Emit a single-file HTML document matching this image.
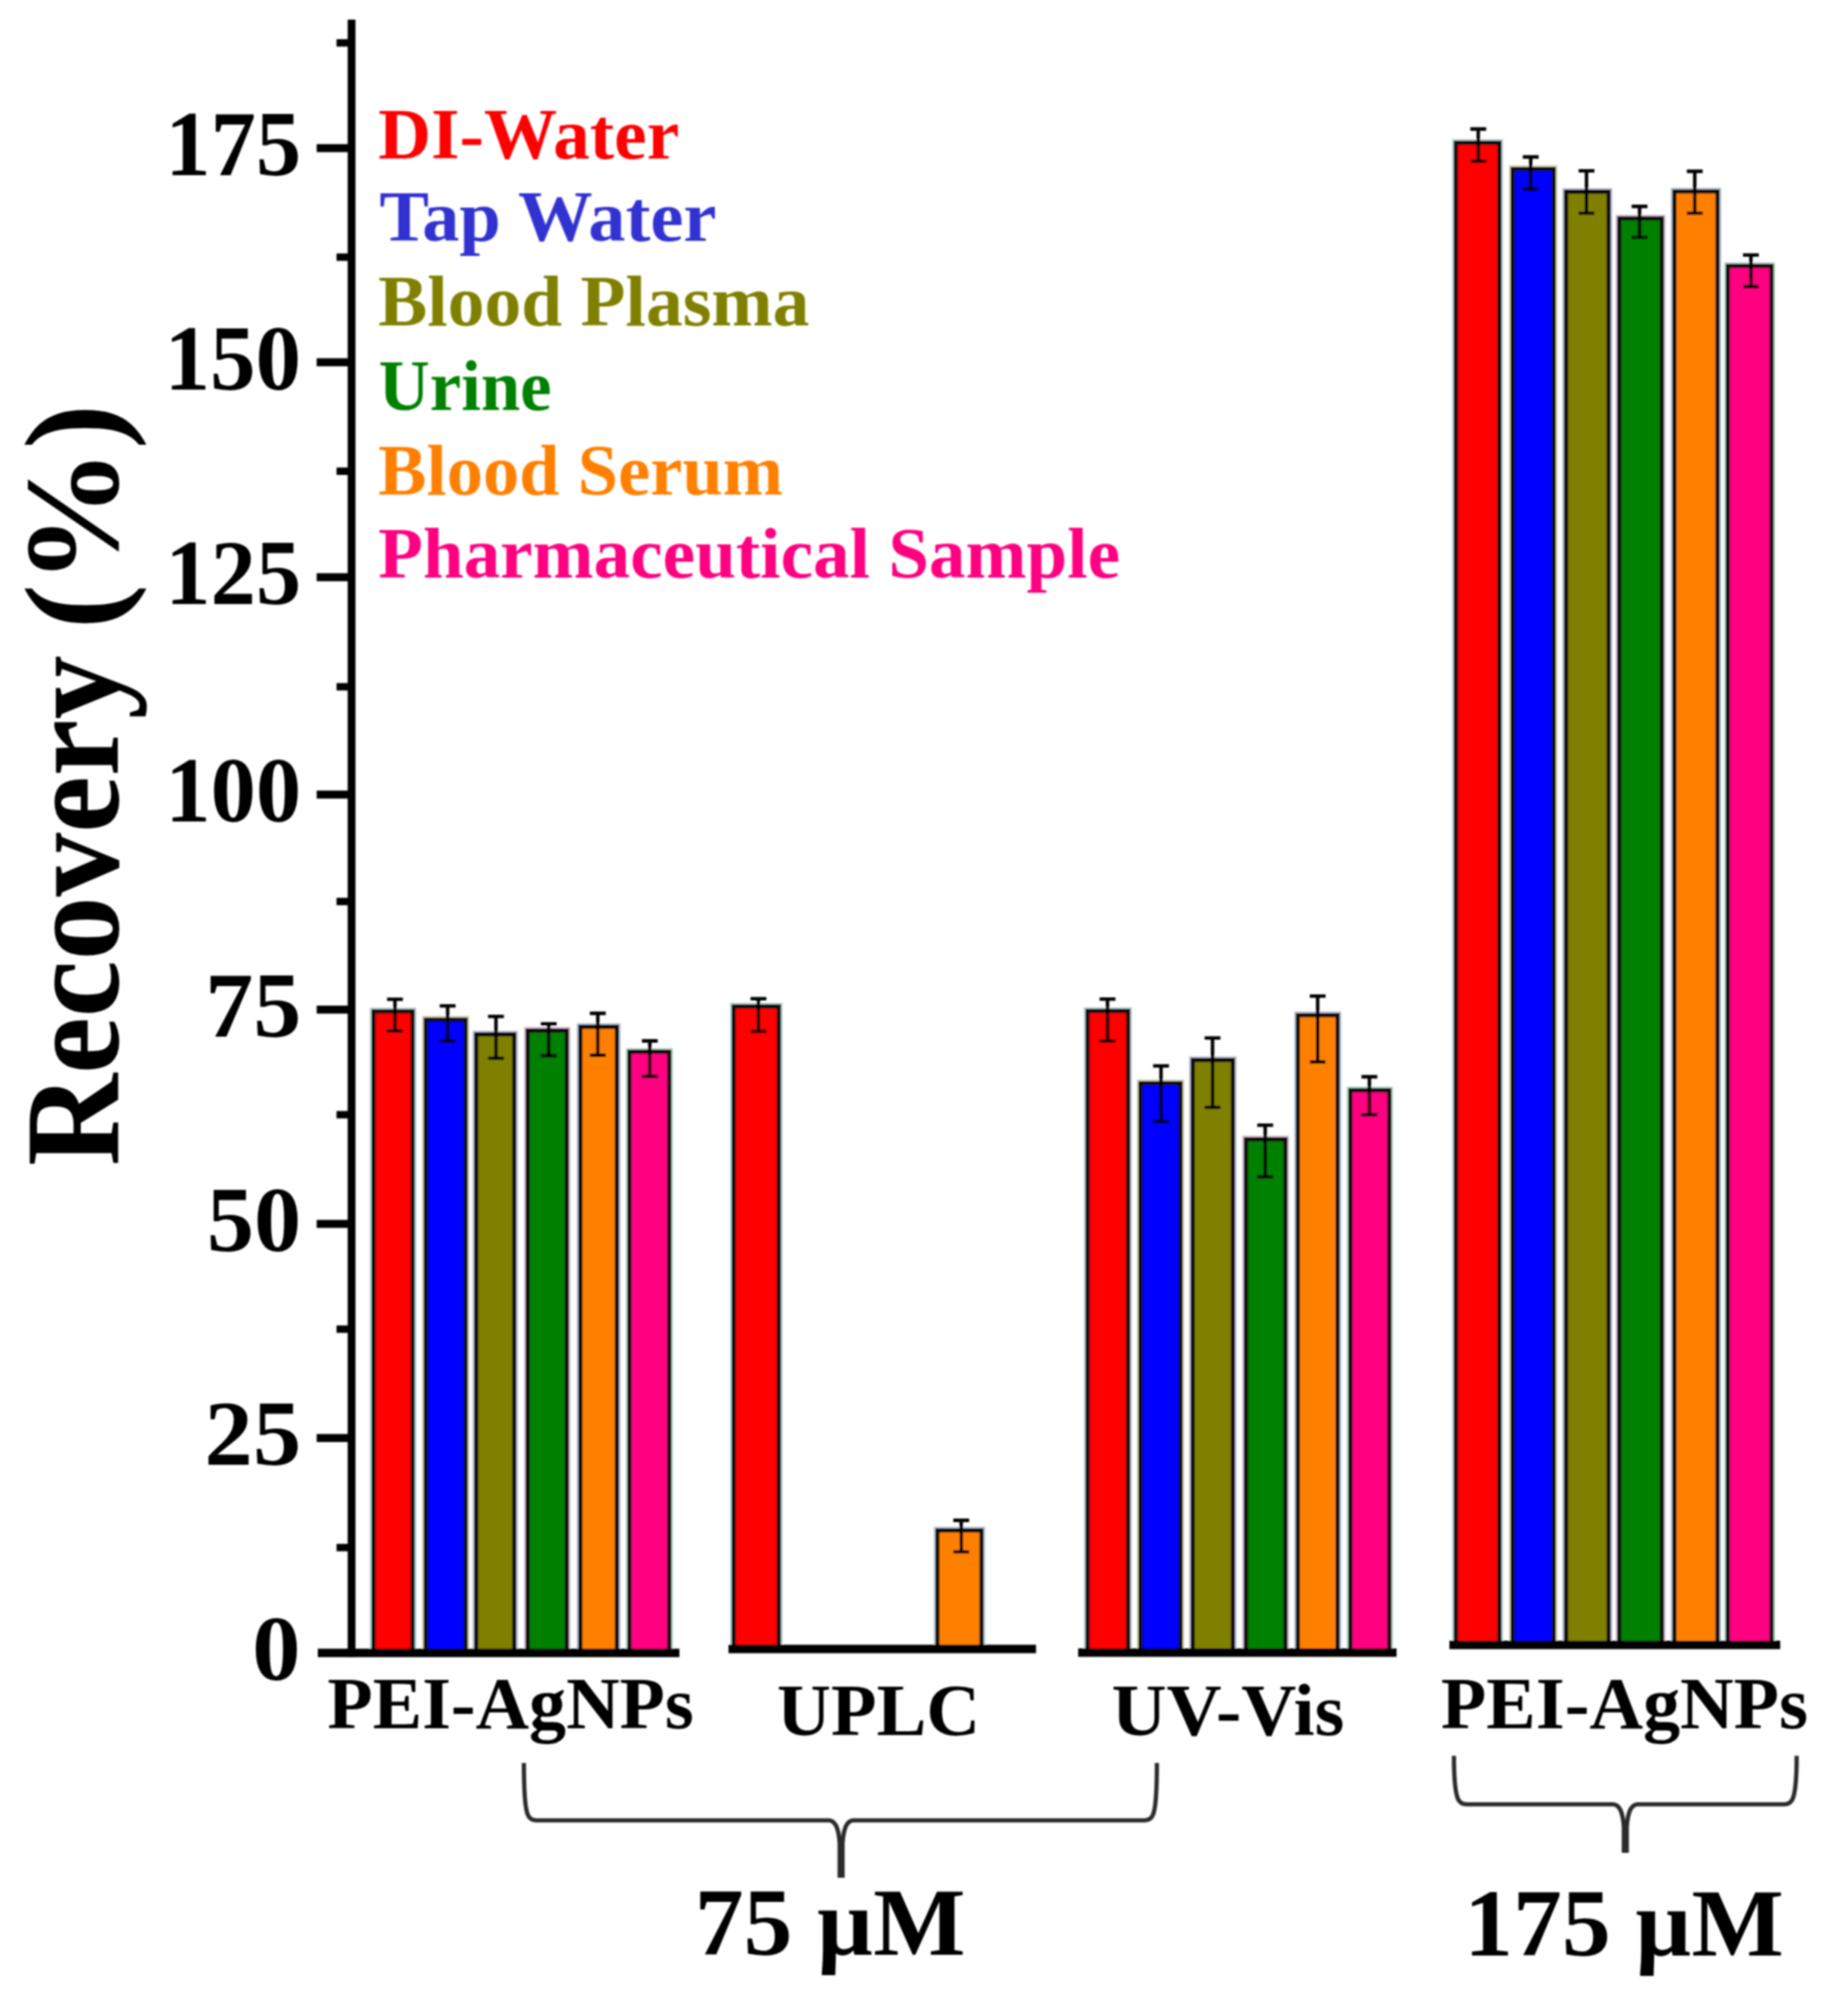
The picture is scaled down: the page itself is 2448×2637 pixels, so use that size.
<!DOCTYPE html>
<html lang="en"><head><meta charset="utf-8"><title>Recovery chart</title>
<style>html,body{margin:0;padding:0;background:#fff}body{width:2448px;height:2637px;overflow:hidden}svg{display:block}</style>
</head><body>
<svg width="2448" height="2637" viewBox="0 0 2448 2637" font-family='"Liberation Serif", serif' font-weight="bold">
<rect width="2448" height="2637" fill="#fff"/>
<g id="chart" filter="url(#soft)">
<rect x="494.75" y="1339.50" width="51.80" height="849.50" fill="none" stroke="#a6c6c6" stroke-opacity="0.75" stroke-width="10.0"/>
<rect x="494.75" y="1339.50" width="51.80" height="849.50" fill="#FF0000" stroke="#111" stroke-width="5.5"/>
<rect x="564.05" y="1350.50" width="52.70" height="838.50" fill="none" stroke="#c6c4a0" stroke-opacity="0.75" stroke-width="10.0"/>
<rect x="564.05" y="1350.50" width="52.70" height="838.50" fill="#0000FF" stroke="#111" stroke-width="5.5"/>
<rect x="630.75" y="1370.00" width="50.50" height="819.00" fill="none" stroke="#b2b2cc" stroke-opacity="0.75" stroke-width="10.0"/>
<rect x="630.75" y="1370.00" width="50.50" height="819.00" fill="#808000" stroke="#111" stroke-width="5.5"/>
<rect x="699.05" y="1365.00" width="51.70" height="824.00" fill="none" stroke="#ccb2c6" stroke-opacity="0.75" stroke-width="10.0"/>
<rect x="699.05" y="1365.00" width="51.70" height="824.00" fill="#008000" stroke="#111" stroke-width="5.5"/>
<rect x="768.75" y="1360.00" width="48.50" height="829.00" fill="none" stroke="#a8b8cc" stroke-opacity="0.75" stroke-width="10.0"/>
<rect x="768.75" y="1360.00" width="48.50" height="829.00" fill="#FF8000" stroke="#111" stroke-width="5.5"/>
<rect x="833.75" y="1393.00" width="52.80" height="796.00" fill="none" stroke="#a6ccb8" stroke-opacity="0.75" stroke-width="10.0"/>
<rect x="833.75" y="1393.00" width="52.80" height="796.00" fill="#FF0080" stroke="#111" stroke-width="5.5"/>
<rect x="971.95" y="1333.00" width="59.70" height="851.00" fill="none" stroke="#a6c6c6" stroke-opacity="0.75" stroke-width="10.0"/>
<rect x="971.95" y="1333.00" width="59.70" height="851.00" fill="#FF0000" stroke="#111" stroke-width="5.5"/>
<rect x="1241.75" y="2027.00" width="58.50" height="157.00" fill="none" stroke="#a8b8cc" stroke-opacity="0.75" stroke-width="10.0"/>
<rect x="1241.75" y="2027.00" width="58.50" height="157.00" fill="#FF8000" stroke="#111" stroke-width="5.5"/>
<rect x="1440.65" y="1339.00" width="53.80" height="850.00" fill="none" stroke="#a6c6c6" stroke-opacity="0.75" stroke-width="10.0"/>
<rect x="1440.65" y="1339.00" width="53.80" height="850.00" fill="#FF0000" stroke="#111" stroke-width="5.5"/>
<rect x="1510.75" y="1434.70" width="53.00" height="754.30" fill="none" stroke="#c6c4a0" stroke-opacity="0.75" stroke-width="10.0"/>
<rect x="1510.75" y="1434.70" width="53.00" height="754.30" fill="#0000FF" stroke="#111" stroke-width="5.5"/>
<rect x="1580.05" y="1404.00" width="53.20" height="785.00" fill="none" stroke="#b2b2cc" stroke-opacity="0.75" stroke-width="10.0"/>
<rect x="1580.05" y="1404.00" width="53.20" height="785.00" fill="#808000" stroke="#111" stroke-width="5.5"/>
<rect x="1650.45" y="1509.00" width="52.30" height="680.00" fill="none" stroke="#ccb2c6" stroke-opacity="0.75" stroke-width="10.0"/>
<rect x="1650.45" y="1509.00" width="52.30" height="680.00" fill="#008000" stroke="#111" stroke-width="5.5"/>
<rect x="1719.35" y="1344.60" width="52.50" height="844.40" fill="none" stroke="#a8b8cc" stroke-opacity="0.75" stroke-width="10.0"/>
<rect x="1719.35" y="1344.60" width="52.50" height="844.40" fill="#FF8000" stroke="#111" stroke-width="5.5"/>
<rect x="1788.75" y="1444.00" width="51.70" height="745.00" fill="none" stroke="#a6ccb8" stroke-opacity="0.75" stroke-width="10.0"/>
<rect x="1788.75" y="1444.00" width="51.70" height="745.00" fill="#FF0080" stroke="#111" stroke-width="5.5"/>
<rect x="1928.55" y="189.20" width="57.70" height="1989.30" fill="none" stroke="#a6c6c6" stroke-opacity="0.75" stroke-width="10.0"/>
<rect x="1928.55" y="189.20" width="57.70" height="1989.30" fill="#FF0000" stroke="#111" stroke-width="5.5"/>
<rect x="2003.75" y="223.80" width="54.50" height="1954.70" fill="none" stroke="#c6c4a0" stroke-opacity="0.75" stroke-width="10.0"/>
<rect x="2003.75" y="223.80" width="54.50" height="1954.70" fill="#0000FF" stroke="#111" stroke-width="5.5"/>
<rect x="2074.55" y="254.00" width="56.30" height="1924.50" fill="none" stroke="#b2b2cc" stroke-opacity="0.75" stroke-width="10.0"/>
<rect x="2074.55" y="254.00" width="56.30" height="1924.50" fill="#808000" stroke="#111" stroke-width="5.5"/>
<rect x="2145.05" y="289.30" width="56.40" height="1889.20" fill="none" stroke="#ccb2c6" stroke-opacity="0.75" stroke-width="10.0"/>
<rect x="2145.05" y="289.30" width="56.40" height="1889.20" fill="#008000" stroke="#111" stroke-width="5.5"/>
<rect x="2218.05" y="253.60" width="57.20" height="1924.90" fill="none" stroke="#a8b8cc" stroke-opacity="0.75" stroke-width="10.0"/>
<rect x="2218.05" y="253.60" width="57.20" height="1924.90" fill="#FF8000" stroke="#111" stroke-width="5.5"/>
<rect x="2288.75" y="352.30" width="57.90" height="1826.20" fill="none" stroke="#a6ccb8" stroke-opacity="0.75" stroke-width="10.0"/>
<rect x="2288.75" y="352.30" width="57.90" height="1826.20" fill="#FF0080" stroke="#111" stroke-width="5.5"/>
<path d="M523.2,1323.5V1365.2M512.7,1323.5H533.7M512.7,1365.2H533.7" stroke="#000" stroke-width="4.6" fill="none"/>
<path d="M593.0,1332.3V1378.6M582.5,1332.3H603.5M582.5,1378.6H603.5" stroke="#000" stroke-width="4.6" fill="none"/>
<path d="M657.0,1346.2V1401.7M646.5,1346.2H667.5M646.5,1401.7H667.5" stroke="#000" stroke-width="4.6" fill="none"/>
<path d="M726.9,1356.0V1398.1M716.4,1356.0H737.4M716.4,1398.1H737.4" stroke="#000" stroke-width="4.6" fill="none"/>
<path d="M791.9,1342.1V1397.6M781.4,1342.1H802.4M781.4,1397.6H802.4" stroke="#000" stroke-width="4.6" fill="none"/>
<path d="M860.8,1378.6V1425.4M850.3,1378.6H871.3M850.3,1425.4H871.3" stroke="#000" stroke-width="4.6" fill="none"/>
<path d="M1004.7,1322.7V1366.0M994.2,1322.7H1015.2M994.2,1366.0H1015.2" stroke="#000" stroke-width="4.6" fill="none"/>
<path d="M1273.3,2013.6V2055.2M1262.8,2013.6H1283.8M1262.8,2055.2H1283.8" stroke="#000" stroke-width="4.6" fill="none"/>
<path d="M1467.1,1323.3V1378.8M1456.6,1323.3H1477.6M1456.6,1378.8H1477.6" stroke="#000" stroke-width="4.6" fill="none"/>
<path d="M1538.0,1411.8V1485.6M1527.5,1411.8H1548.5M1527.5,1485.6H1548.5" stroke="#000" stroke-width="4.6" fill="none"/>
<path d="M1606.2,1374.7V1466.7M1595.7,1374.7H1616.7M1595.7,1466.7H1616.7" stroke="#000" stroke-width="4.6" fill="none"/>
<path d="M1676.0,1490.2V1558.7M1665.5,1490.2H1686.5M1665.5,1558.7H1686.5" stroke="#000" stroke-width="4.6" fill="none"/>
<path d="M1745.5,1319.2V1406.4M1735.0,1319.2H1756.0M1735.0,1406.4H1756.0" stroke="#000" stroke-width="4.6" fill="none"/>
<path d="M1814.0,1426.1V1476.2M1803.5,1426.1H1824.5M1803.5,1476.2H1824.5" stroke="#000" stroke-width="4.6" fill="none"/>
<path d="M1958.2,170.9V213.3M1947.7,170.9H1968.7M1947.7,213.3H1968.7" stroke="#000" stroke-width="4.6" fill="none"/>
<path d="M2027.7,207.9V250.4M2017.2,207.9H2038.2M2017.2,250.4H2038.2" stroke="#000" stroke-width="4.6" fill="none"/>
<path d="M2101.6,226.3V282.3M2091.1,226.3H2112.1M2091.1,282.3H2112.1" stroke="#000" stroke-width="4.6" fill="none"/>
<path d="M2171.9,273.4V314.3M2161.4,273.4H2182.4M2161.4,314.3H2182.4" stroke="#000" stroke-width="4.6" fill="none"/>
<path d="M2245.0,226.9V282.3M2234.5,226.9H2255.5M2234.5,282.3H2255.5" stroke="#000" stroke-width="4.6" fill="none"/>
<path d="M2319.4,337.8V379.7M2308.9,337.8H2329.9M2308.9,379.7H2329.9" stroke="#000" stroke-width="4.6" fill="none"/>
<rect x="460.55" y="26" width="10.3" height="2168.5" fill="#000"/>
<rect x="419.5" y="190.9" width="46.2" height="10.6" fill="#000"/>
<rect x="419.5" y="474.5" width="46.2" height="10.6" fill="#000"/>
<rect x="419.5" y="759.2" width="46.2" height="10.6" fill="#000"/>
<rect x="419.5" y="1047.1" width="46.2" height="10.6" fill="#000"/>
<rect x="419.5" y="1331.9" width="46.2" height="10.6" fill="#000"/>
<rect x="419.5" y="1615.7" width="46.2" height="10.6" fill="#000"/>
<rect x="419.5" y="1899.3" width="46.2" height="10.6" fill="#000"/>
<rect x="445.8" y="51.9" width="19.9" height="9.8" fill="#000"/>
<rect x="445.8" y="335.7" width="19.9" height="9.8" fill="#000"/>
<rect x="445.8" y="619.2" width="19.9" height="9.8" fill="#000"/>
<rect x="445.8" y="904.7" width="19.9" height="9.8" fill="#000"/>
<rect x="445.8" y="1189.1" width="19.9" height="9.8" fill="#000"/>
<rect x="445.8" y="1471.5" width="19.9" height="9.8" fill="#000"/>
<rect x="445.8" y="1755.5" width="19.9" height="9.8" fill="#000"/>
<rect x="445.8" y="2044.8" width="19.9" height="9.8" fill="#000"/>
<rect x="421" y="2183.6" width="479.0" height="11.2" fill="#000"/>
<rect x="965" y="2178.4" width="407.4" height="11.2" fill="#000"/>
<rect x="1428.2" y="2183.2" width="421.8" height="11.2" fill="#000"/>
<rect x="1920" y="2173.0" width="438.2" height="11.2" fill="#000"/>
<path d="M694,2335 C694,2369.2 695,2389 698,2400 C700,2408 704,2411 711,2411 L1098.2,2411 C1106.2,2411.5 1110.8,2420 1112.3,2441 L1112.3,2487" stroke="#2b2b2b" stroke-width="5.6" fill="none" stroke-linecap="butt"/>
<path d="M1532.5,2335 C1532.5,2369.2 1531.5,2389 1528.5,2400 C1526.5,2408 1522.5,2411 1515.5,2411 L1130.2,2411 C1122.2,2411.5 1117.6000000000001,2420 1116.1000000000001,2441 L1116.1000000000001,2487" stroke="#2b2b2b" stroke-width="5.6" fill="none" stroke-linecap="butt"/>
<path d="M1926,2325.5 C1926,2354.4 1927,2367.7 1930,2378.7 C1932,2386.7 1936,2389.7 1943,2389.7 L2137,2389.7 C2145,2390.2 2149.6,2398.7 2151.1,2419.7 L2151.1,2454" stroke="#2b2b2b" stroke-width="5.6" fill="none" stroke-linecap="butt"/>
<path d="M2380,2325.5 C2380,2354.4 2379,2367.7 2376,2378.7 C2374,2386.7 2370,2389.7 2363,2389.7 L2169,2389.7 C2161,2390.2 2156.4,2398.7 2154.9,2419.7 L2154.9,2454" stroke="#2b2b2b" stroke-width="5.6" fill="none" stroke-linecap="butt"/>
<text transform="translate(219.11,232.00) scale(0.9824,1)" font-size="122" fill="#000">175</text>
<text transform="translate(217.95,515.60) scale(0.9889,1)" font-size="122" fill="#000">150</text>
<text transform="translate(219.11,800.30) scale(0.9824,1)" font-size="122" fill="#000">125</text>
<text transform="translate(219.11,1088.20) scale(0.9824,1)" font-size="122" fill="#000">100</text>
<text transform="translate(271.77,1373.00) scale(1.0443,1)" font-size="122" fill="#000">75</text>
<text transform="translate(274.10,1656.80) scale(1.0245,1)" font-size="122" fill="#000">50</text>
<text transform="translate(270.85,1940.40) scale(1.0504,1)" font-size="122" fill="#000">25</text>
<text transform="translate(333.89,2224.80) scale(1.0511,1)" font-size="122" fill="#000">0</text>
<text transform="translate(501.00,209.70) scale(1.0107,1)" font-size="96" fill="#FF0000">DI-Water</text>
<text transform="translate(502.42,318.80) scale(1.0274,1)" font-size="96" fill="#3030D2">Tap Water</text>
<text transform="translate(500.99,431.30) scale(1.0152,1)" font-size="96" fill="#808000">Blood Plasma</text>
<text transform="translate(501.56,543.40) scale(0.9770,1)" font-size="96" fill="#008000">Urine</text>
<text transform="translate(501.02,654.80) scale(1.0008,1)" font-size="96" fill="#FF8000">Blood Serum</text>
<text transform="translate(501.00,765.00) scale(1.0098,1)" font-size="96" fill="#FF0080">Pharmaceutical Sample</text>
<text transform="translate(433.78,2288.60) scale(1.0014,1)" font-size="98" fill="#000">PEI-AgNPs</text>
<text transform="translate(1029.33,2297.70) scale(1.0091,1)" font-size="98" fill="#000">UPLC</text>
<text transform="translate(1472.48,2297.70) scale(1.0296,1)" font-size="98" fill="#000">UV-Vis</text>
<text transform="translate(1908.78,2288.70) scale(1.0034,1)" font-size="98" fill="#000">PEI-AgNPs</text>
<text transform="translate(920.26,2589.30) scale(1.0115,1)" font-size="128" fill="#000">75 µM</text>
<text transform="translate(1939.54,2590.10) scale(1.0114,1)" font-size="128" fill="#000">175 µM</text>
<text transform="translate(156.00,1544.36) rotate(-90) scale(0.9502,1)" font-size="178" fill="#000">Recovery</text>
<text transform="translate(156.00,833.14) rotate(-90) scale(1.0043,1)" font-size="178" fill="#000">(%)</text>
</g>
<defs><filter id="soft" x="0" y="0" width="100%" height="100%" filterUnits="userSpaceOnUse"><feGaussianBlur stdDeviation="1.25"/></filter></defs>
</svg>
</body></html>
